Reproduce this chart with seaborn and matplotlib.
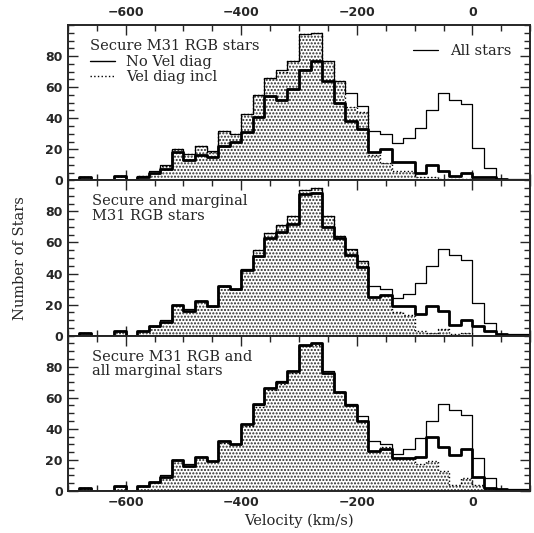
import numpy as np
import pandas as pd
import matplotlib
matplotlib.use("Agg")
import matplotlib.pyplot as plt
from matplotlib.lines import Line2D
from matplotlib.ticker import MultipleLocator
import seaborn as sns

# 20 km/s velocity bins from -700 to +100 km/s
bin_edges = np.arange(-700, 101, 20)
bin_centers = (bin_edges[:-1] + bin_edges[1:]) / 2

# Star counts per bin (40 bins)
all_stars = [0, 2, 0, 0, 3, 0, 3, 6, 10, 20, 17, 22, 19, 32, 30, 43, 55, 66, 71, 77,
             94, 95, 77, 64, 56, 48, 32, 30, 24, 27, 34, 45, 56, 52, 49, 21, 8, 1, 1, 1]

secure_novd = [0, 2, 0, 0, 3, 0, 2, 5, 7, 18, 13, 16, 15, 22, 25, 31, 41, 54, 52, 59,
               71, 77, 64, 50, 38, 33, 18, 20, 12, 12, 5, 10, 6, 3, 5, 2, 2, 1, 0, 0]
secure_vd = [0, 2, 0, 0, 3, 0, 3, 5, 9, 20, 17, 22, 18, 32, 30, 43, 55, 66, 70, 77,
             94, 95, 77, 64, 47, 44, 16, 11, 6, 6, 2, 2, 1, 1, 1, 0, 0, 0, 0, 0]

marg_novd = [0, 2, 0, 0, 3, 0, 3, 6, 9, 20, 16, 22, 19, 32, 30, 42, 51, 63, 67, 72,
             91, 92, 70, 63, 52, 44, 25, 26, 19, 19, 14, 19, 16, 7, 10, 6, 3, 1, 0, 0]
marg_vd = [0, 2, 0, 0, 3, 0, 3, 6, 9, 20, 16, 22, 19, 32, 30, 42, 55, 66, 71, 77,
           94, 95, 77, 64, 55, 48, 25, 26, 15, 13, 3, 2, 4, 1, 2, 0, 0, 0, 0, 0]

allmarg_novd = [0, 2, 0, 0, 3, 0, 3, 6, 9, 20, 16, 22, 19, 32, 30, 43, 56, 66, 70, 77,
                94, 95, 76, 64, 55, 45, 26, 27, 21, 21, 22, 35, 28, 23, 27, 9, 2, 1, 0, 0]
allmarg_vd = [0, 2, 0, 0, 3, 0, 3, 6, 9, 20, 16, 22, 19, 31, 30, 42, 54, 65, 69, 76,
              93, 94, 76, 64, 55, 45, 26, 28, 21, 21, 17, 19, 13, 4, 8, 4, 1, 0, 0, 0]

panel_titles = ["Secure M31 RGB stars",
                "Secure and marginal\nM31 RGB stars",
                "Secure M31 RGB and\nall marginal stars"]
panels = [(secure_novd, secure_vd), (marg_novd, marg_vd), (allmarg_novd, allmarg_vd)]

sns.set_style("ticks")
plt.rcParams["font.family"] = ["DejaVu Sans"]
plt.rcParams["hatch.linewidth"] = 1.0

serif = ["DejaVu Serif"]
fig = plt.figure(figsize=(5.34, 5.33), dpi=100)
left, right, top, bottom = 0.127, 0.993, 0.953, 0.079
h = (top - bottom) / 3
axes = [fig.add_axes([left, top - (i + 1) * h, right - left, h]) for i in range(3)]


def step_hist(ax, counts, **kws):
    df = pd.DataFrame({"velocity": bin_centers, "count": counts})
    sns.histplot(data=df, x="velocity", weights="count", bins=bin_edges.tolist(),
                 element="step", ax=ax, **kws)


for i, (ax, title, (novd, vd)) in enumerate(zip(axes, panel_titles, panels)):
    # stippled area: sample including velocity diagnostic
    step_hist(ax, vd, fill=True, facecolor="white", edgecolor="#2a2a2a", alpha=1,
              hatch=".....", linewidth=0)
    step_hist(ax, vd, fill=False, color="black", linestyle=":", linewidth=1.0)
    # all stars: thin line
    step_hist(ax, all_stars, fill=False, color="black", linewidth=0.9)
    # sample without velocity diagnostic: thick line
    step_hist(ax, novd, fill=False, color="black", linewidth=2.0)

    ax.set_xlim(-700, 100)
    ax.set_ylim(0, 100)
    ax.set_xlabel("")
    ax.set_ylabel("")
    ax.xaxis.set_major_locator(MultipleLocator(200))
    ax.xaxis.set_minor_locator(MultipleLocator(50))
    ax.yaxis.set_minor_locator(MultipleLocator(5))
    ax.set_yticks([0, 20, 40, 60, 80])
    ax.tick_params(which="both", direction="in", top=True, right=True,
                   labelsize=9, width=1.0)
    ax.tick_params(which="major", length=7)
    ax.tick_params(which="minor", length=4)
    ax.tick_params(axis="x", labeltop=(i == 0), labelbottom=(i == 2), pad=4)
    for s in ax.spines.values():
        s.set_linewidth(1.4)
    for lab in ax.get_xticklabels() + ax.get_yticklabels():
        lab.set_fontweight("bold")

    if i == 0:
        handles = [Line2D([], [], color="black", lw=1.0),
                   Line2D([], [], color="black", lw=1.0, linestyle=":")]
        leg = ax.legend(handles, ["No Vel diag", "Vel diag incl"],
                        title=title, loc="upper left", bbox_to_anchor=(0.035, 0.945),
                        frameon=False, alignment="left", handlelength=1.7,
                        handletextpad=0.8, borderaxespad=0, labelspacing=0.1,
                        prop={"family": serif, "size": 10.5},
                        title_fontproperties={"family": serif, "size": 10.5})
        ax.add_artist(leg)
        ax.legend([Line2D([], [], color="black", lw=0.9)], ["All stars"],
                  loc="upper right", frameon=False, handlelength=1.7,
                  handletextpad=0.8, borderaxespad=0.9,
                  prop={"family": serif, "size": 10.5})
    else:
        ax.text(0.052, 0.91, title, transform=ax.transAxes, ha="left", va="top",
                family=serif, fontsize=10.5, linespacing=1.05)

mid = axes[1].get_position()
fig.text(0.037, (mid.y0 + mid.y1) / 2, "Number of Stars", rotation=90,
         ha="center", va="center", family=serif, fontsize=10.5)
fig.text((left + right) / 2, 0.022, "Velocity (km/s)", ha="center", va="center",
         family=serif, fontsize=10.5)

fig.savefig("out.png", dpi=100)
